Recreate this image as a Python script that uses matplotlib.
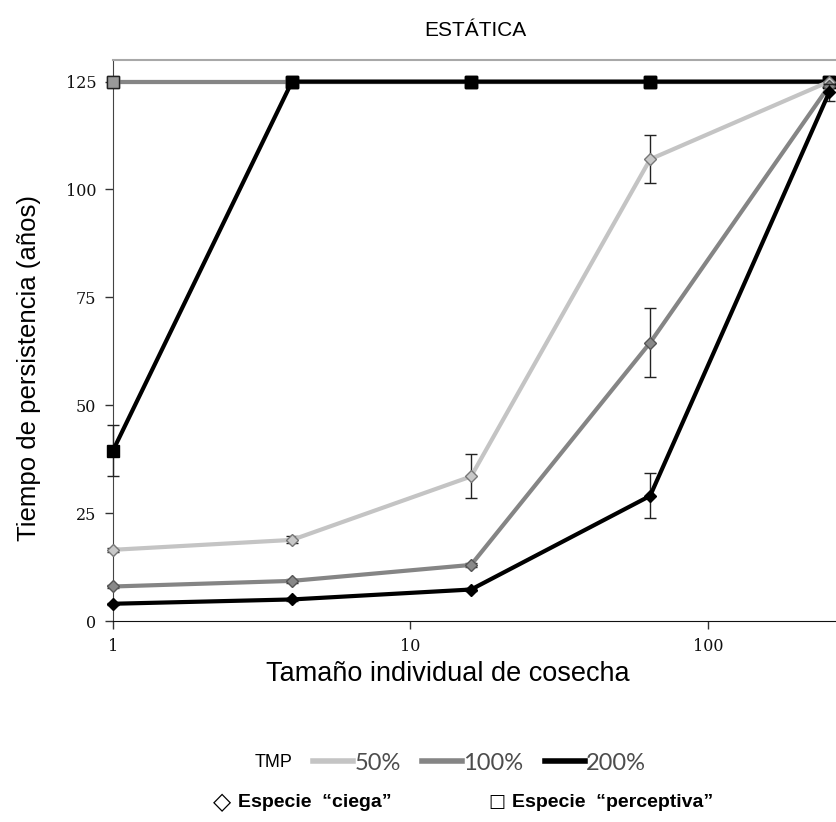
import matplotlib
matplotlib.use("Agg")
import matplotlib.pyplot as plt
from matplotlib.lines import Line2D
from matplotlib.ticker import FixedLocator, NullLocator, FixedFormatter

# harvest size (log scale)
harvest = [1, 4, 16, 64, 256]

# "ciega" species (diamonds), by TMP
ciega_50 = [16.5, 18.8, 33.5, 107.0, 125.0]
ciega_100 = [8.0, 9.3, 13.0, 64.5, 124.0]
ciega_200 = [4.0, 5.0, 7.3, 29.0, 122.5]
ciega_50_err = [0.5, 0.8, 5.1, 5.6, 0.0]
ciega_100_err = [0.3, 0.4, 0.5, 8.0, 0.0]
ciega_200_err = [0.2, 0.3, 0.4, 5.2, 2.0]

# "perceptiva" species (squares), by TMP
percep_50 = [125.0, 125.0, 125.0, 125.0, 125.0]
percep_100 = [125.0, 125.0, 125.0, 125.0, 125.0]
percep_200 = [39.5, 125.0, 125.0, 125.0, 125.0]
percep_200_err = [6.0, 0.0, 0.0, 0.0, 0.0]

yticks = [0, 25, 50, 75, 100, 125]
xticks = [1, 10, 100]
xtick_labels = ["1", "10", "100"]
tmp_labels = ["50%", "100%", "200%"]

c50, c100, c200 = "#c4c4c4", "#858585", "#000000"

fig = plt.figure(figsize=(8.37, 8.22), dpi=100)
ax = fig.add_axes([0.135, 0.2445, 0.865, 0.6825])

# perceptive species
ax.plot(harvest, percep_50, color=c50, lw=3, marker="s", ms=9, mfc="#a0a0a0", mec="#222", clip_on=False, zorder=3)
ax.plot(harvest, percep_100, color=c100, lw=3, marker="s", ms=9, mfc="#999999", mec="#222", clip_on=False, zorder=3)
ax.errorbar(harvest, percep_200, yerr=percep_200_err, color=c200, lw=3, marker="s", ms=9, mfc="black", mec="black",
            ecolor="#222", elinewidth=1, capsize=4, clip_on=False, zorder=4)

# blind species
ax.errorbar(harvest, ciega_50, yerr=ciega_50_err, color=c50, lw=3, marker="D", ms=6.5, mfc="#c8c8c8", mec="#777",
            ecolor="#222", elinewidth=1, capsize=4, clip_on=False, zorder=5)
ax.errorbar(harvest, ciega_100, yerr=ciega_100_err, color=c100, lw=3, marker="D", ms=6.5, mfc="#888888", mec="#555",
            ecolor="#222", elinewidth=1, capsize=4, clip_on=False, zorder=5)
ax.errorbar(harvest, ciega_200, yerr=ciega_200_err, color=c200, lw=3, marker="D", ms=6.5, mfc="black", mec="black",
            ecolor="#222", elinewidth=1, capsize=4, clip_on=False, zorder=6)

ax.set_xscale("log")
ax.set_xlim(1, 272)
ax.set_ylim(0, 130)
ax.xaxis.set_major_locator(FixedLocator(xticks))
ax.xaxis.set_major_formatter(FixedFormatter(xtick_labels))
ax.xaxis.set_minor_locator(NullLocator())
ax.set_yticks(yticks)
ax.tick_params(direction="out", length=6, width=1, color="#333", labelsize=11.5, labelcolor="#111")
for lab in ax.get_xticklabels() + ax.get_yticklabels():
    lab.set_family("DejaVu Serif")
ax.tick_params(axis="x", pad=6)
ax.tick_params(axis="y", pad=6)

ax.spines["right"].set_visible(False)
ax.spines["top"].set_color("#a8a8a8")
ax.spines["top"].set_linewidth(1.5)
ax.spines["left"].set_color("#444")
ax.spines["bottom"].set_color("#111")

ax.set_title("ESTÁTICA", family="Liberation Sans", fontsize=15, pad=17)
ax.set_xlabel("Tamaño individual de cosecha", family="Liberation Sans", fontsize=19.5)
ax.set_ylabel("Tiempo de persistencia (años)", family="Liberation Sans", fontsize=18.5)
ax.xaxis.set_label_coords(0.463, -0.072)
ax.yaxis.set_label_coords(-0.10, 0.451)

# legend row 1: TMP line colours
handles = [Line2D([], [], color=c, lw=4) for c in (c50, c100, c200)]
fig.text(255 / 837, 1 - 762 / 822, "TMP", family="Liberation Sans", fontsize=13, va="center", ha="left")
fig.legend(handles, tmp_labels, loc="center left", bbox_to_anchor=(292 / 837, 1 - 763 / 822), ncol=3,
           frameon=False, handlelength=1.7, handletextpad=0.05, columnspacing=0.9,
           prop={"family": "Lato", "size": 17}, labelcolor="#4d4d4d")

# legend row 2: marker shapes
yrow = 1 - 802 / 822
fig.text(213 / 837, yrow, "◇", family="DejaVu Sans", fontsize=17, va="center", ha="left")
fig.text(238 / 837, yrow, "Especie  “ciega”", family="Liberation Sans", fontsize=14, weight="bold", va="center")
fig.text(488 / 837, yrow, "□", family="DejaVu Sans", fontsize=13, va="center", ha="left")
fig.text(512 / 837, yrow, "Especie  “perceptiva”", family="Liberation Sans", fontsize=14, weight="bold", va="center")

fig.savefig("out.png", dpi=100)
